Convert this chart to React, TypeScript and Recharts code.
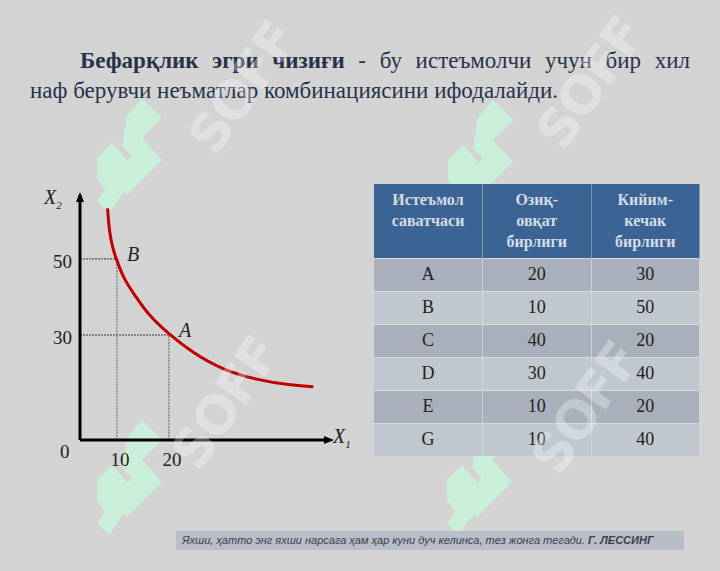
import React from 'react';
import {
  LineChart,
  Line,
  XAxis,
  YAxis,
  ReferenceLine,
  ReferenceDot,
} from 'recharts';

// indifference curve
const curveX = [8.2, 8.27, 8.52, 9.1, 9.94, 11.4, 13.65, 15.8, 19.9, 24.7, 30.4, 36.9, 43.3, 47.8];
const curveY = [63.3, 62.0, 57.6, 53.2, 49.7, 44.5, 40.1, 35.7, 30.3, 25.2, 20.8, 18.2, 16.8, 16.4];

const xTicks = [10, 20];
const yTicks = [30, 50];

// marked bundles on the curve
const markedNames = ['A', 'B'];
const markedX = [20, 10];
const markedY = [30, 50];

// table
const tableHead = [['Истеъмол', 'саватчаси'], ['Озиқ-', 'овқат', 'бирлиги'], ['Кийим-', 'кечак', 'бирлиги']];
const bundles = ['A', 'B', 'C', 'D', 'E', 'G'];
const foodUnits = [20, 10, 40, 30, 10, 10];
const clothUnits = [30, 50, 20, 40, 20, 40];

const X_MIN = 2.9;
const X_MAX = 51;
const Y_MIN = 2.4;
const Y_MAX = 66.8;

const curveData = curveX.map((x, i) => ({ x, y: curveY[i] }));

const SERIF = '"Liberation Serif", "DejaVu Serif", serif';

const ArrowUp = (props: any) => (
  <path
    d={`M${props.cx},${props.cy - 3} L${props.cx - 4},${props.cy + 7} L${props.cx + 4},${props.cy + 7} Z`}
    fill="#000"
  />
);
const ArrowRight = (props: any) => (
  <path
    d={`M${props.cx + 4},${props.cy} L${props.cx - 6},${props.cy - 4} L${props.cx - 6},${props.cy + 4} Z`}
    fill="#000"
  />
);

const Graph = () => (
  <LineChart
    width={360}
    height={480}
    data={curveData}
    margin={{ top: 195, right: 30, bottom: 0, left: 0 }}
    style={{ position: 'absolute', left: 0, top: 0 }}
  >
    <XAxis
      type="number"
      dataKey="x"
      domain={[X_MIN, X_MAX]}
      allowDataOverflow
      ticks={xTicks}
      tickLine={false}
      axisLine={{ stroke: '#000', strokeWidth: 3 }}
      tick={{ fill: '#222', fontSize: 19, fontFamily: SERIF, dx: 3 }}
      tickMargin={7}
      height={40}
    />
    <YAxis
      type="number"
      dataKey="y"
      domain={[Y_MIN, Y_MAX]}
      allowDataOverflow
      ticks={yTicks}
      tickLine={false}
      axisLine={{ stroke: '#000', strokeWidth: 3 }}
      tick={{ fill: '#222', fontSize: 19, fontFamily: SERIF, dy: 2 }}
      tickMargin={2}
      width={80}
    />
    {markedX.map((x, i) => (
      <ReferenceLine
        key={`h-${i}`}
        segment={[{ x: X_MIN, y: markedY[i] }, { x, y: markedY[i] }]}
        stroke="#333"
        strokeDasharray="2 1"
        strokeWidth={1}
      />
    ))}
    {markedX.map((x, i) => (
      <ReferenceLine
        key={`v-${i}`}
        segment={[{ x, y: Y_MIN }, { x, y: markedY[i] }]}
        stroke="#666"
        strokeDasharray="2 1"
        strokeWidth={1}
      />
    ))}
    <Line
      type="basis"
      dataKey="y"
      stroke="#c00000"
      strokeWidth={3}
      dot={false}
      isAnimationActive={false}
    />
    {markedX.map((x, i) => (
      <ReferenceDot
        key={`m-${i}`}
        x={x}
        y={markedY[i]}
        r={0}
        label={{
          value: markedNames[i],
          position: 'right',
          offset: 10,
          fill: '#222',
          fontSize: 20,
          fontStyle: 'italic',
          fontFamily: SERIF,
          dy: -5,
        }}
      />
    ))}
    <ReferenceDot x={X_MIN} y={Y_MAX} r={0} shape={ArrowUp} />
    <ReferenceDot x={X_MAX} y={Y_MIN} r={0} shape={ArrowRight} />
  </LineChart>
);

const Logo = ({ left, top }: { left: number; top: number }) => (
  <svg width={80} height={120} style={{ position: 'absolute', left, top }}>
    <g fill="#c9efd9">
      <polygon points="45,0 65,20 45,40 65,62 30,97 12,79 35,58 25,48 30,18" />
      <polygon points="0,60 15,45 30,62 15,78 28,92 12,115 0,103 8,92 0,80" />
    </g>
  </svg>
);

const Soff = ({ left, top }: { left: number; top: number }) => (
  <div
    style={{
      position: 'absolute',
      left,
      top,
      fontFamily: '"DejaVu Sans", sans-serif',
      fontWeight: 'bold',
      fontSize: 52,
      color: 'rgba(255,255,255,0.3)',
      transform: 'rotate(-55deg)',
      transformOrigin: 'left bottom',
      letterSpacing: -2,
      lineHeight: 1,
    }}
  >
    SOFF
  </div>
);

export default function App() {
  const rowBg = ['#a9b0bc', '#c1c7cf'];
  return (
    <div
      style={{
        position: 'absolute',
        left: 0,
        top: 0,
        width: 720,
        height: 571,
        background: '#d3d3d3',
        overflow: 'hidden',
        fontFamily: SERIF,
      }}
    >
      <Logo left={97} top={98} />
      <Logo left={448} top={100} />
      <Logo left={97} top={420} />
      <Logo left={447} top={420} />

      <div
        style={{
          position: 'absolute',
          left: 80,
          top: 46,
          width: 610,
          fontSize: 23,
          lineHeight: '30px',
          color: '#27324a',
          textAlign: 'justify',
          textAlignLast: 'justify',
        }}
      >
        <b>Бефарқлик эгри чизиғи</b> - бу истеъмолчи учун бир хил
      </div>
      <div
        style={{
          position: 'absolute',
          left: 30,
          top: 76,
          fontSize: 23,
          lineHeight: '30px',
          color: '#27324a',
          whiteSpace: 'nowrap',
        }}
      >
        наф берувчи неъматлар комбинациясини ифодалайди.
      </div>

      <Graph />
      <div style={{ position: 'absolute', left: 44, top: 186, fontSize: 20, fontStyle: 'italic', color: '#222' }}>
        X<sub style={{ fontSize: 11 }}>2</sub>
      </div>
      <div style={{ position: 'absolute', left: 333, top: 425, fontSize: 20, fontStyle: 'italic', color: '#222' }}>
        X<sub style={{ fontSize: 11 }}>1</sub>
      </div>
      <div style={{ position: 'absolute', left: 60, top: 441, fontSize: 19, color: '#222' }}>0</div>

      <table
        style={{
          position: 'absolute',
          left: 374,
          top: 184,
          width: 326,
          borderCollapse: 'collapse',
          fontFamily: SERIF,
          tableLayout: 'fixed',
        }}
      >
        <thead>
          <tr style={{ background: '#3b6494', height: 74 }}>
            {tableHead.map((h, k) => (
              <th
                key={k}
                style={{
                  color: '#d5dce6',
                  fontSize: 16,
                  lineHeight: '21px',
                  padding: '5px 4px 4px',
                  verticalAlign: 'top',
                  borderRight: '1px solid #7f98b8',
                }}
              >
                {h.map((line) => (
                  <div key={line}>{line}</div>
                ))}
              </th>
            ))}
          </tr>
        </thead>
        <tbody>
          {bundles.map((b, i) => (
            <tr key={b} style={{ background: rowBg[i % 2], height: 33 }}>
              {[b, foodUnits[i], clothUnits[i]].map((v, j) => (
                <td
                  key={j}
                  style={{
                    textAlign: 'center',
                    fontSize: 18,
                    color: '#222',
                    padding: 0,
                    borderRight: '1px solid #cfd3d9',
                    borderTop: '1px solid #d6d9de',
                  }}
                >
                  {v}
                </td>
              ))}
            </tr>
          ))}
        </tbody>
      </table>

      <Soff left={222} top={110} />
      <Soff left={570} top={105} />
      <Soff left={205} top={425} />
      <Soff left={565} top={430} />

      <div
        style={{
          position: 'absolute',
          left: 176,
          top: 531,
          width: 508,
          height: 19,
          background: '#b7bec7',
          fontFamily: '"Liberation Sans", Arial, sans-serif',
          fontStyle: 'italic',
          fontSize: 11,
          lineHeight: '19px',
          color: '#3a3f47',
          paddingLeft: 6,
          boxSizing: 'border-box',
        }}
      >
        Яхши, ҳатто энг яхши нарсага ҳам ҳар куни дуч келинса, тез жонга тегади. <b>Г. ЛЕССИНГ</b>
      </div>
    </div>
  );
}
